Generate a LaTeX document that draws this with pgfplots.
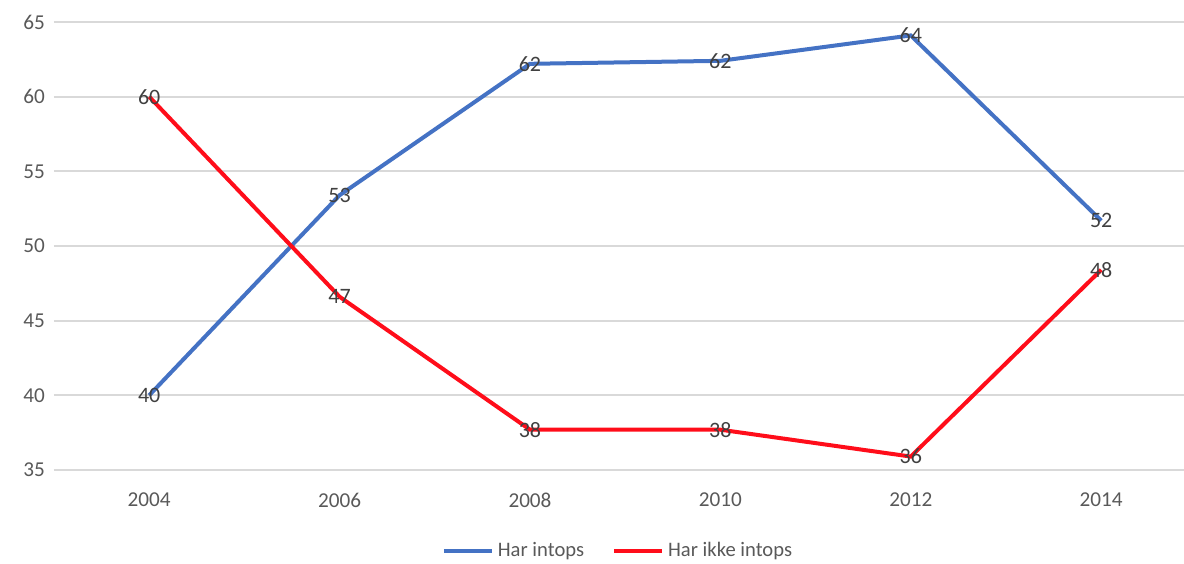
\documentclass[border=0pt]{standalone}
\usepackage{pgfplots}
\pgfplotsset{compat=1.18}
\usepackage{fontspec}
\setmainfont{Carlito}
\definecolor{cblue}{HTML}{4472C4}
\definecolor{cred}{HTML}{FF0D1A}
\definecolor{cgrid}{HTML}{D9D9D9}
\definecolor{ctick}{HTML}{595959}
\definecolor{clab}{HTML}{404040}
\begin{document}
\begin{tikzpicture}
\begin{axis}[
  scale only axis,
  width=565pt, height=224pt,
  xmin=-0.5, xmax=5.435,
  ymin=35, ymax=65,
  ytick={35,40,...,65},
  xtick={0,1,2,3,4,5},
  xticklabels={2004,2006,2008,2010,2012,2014},
  axis line style={draw=none},
  major tick length=0pt,
  ymajorgrids,
  grid style={cgrid, line width=0.9pt},
  tick label style={font=\fontsize{10.6}{12}\selectfont, text=ctick},
  xticklabel style={yshift=-8pt},
  yticklabel style={xshift=-1pt},
  /pgf/number format/assume math mode=true,
  nodes near coords,
  point meta=y,
  nodes near coords style={anchor=center, font=\fontsize{11}{12}\selectfont, text=clab, /pgf/number format/fixed, /pgf/number format/precision=0},
  legend columns=2,
  legend style={at={(0.5,-0.181)}, anchor=center, draw=none, fill=none,
    font=\fontsize{10.3}{12}\selectfont, text=ctick,
    /tikz/every even column/.append style={column sep=12pt}},
  legend image code/.code={\draw[#1] (0pt,0pt) -- (24pt,0pt);},
]
\addplot[cblue, line width=2pt, mark=none] coordinates {
  (0,40.0) (1,53.4) (2,62.2) (3,62.4) (4,64.1) (5,51.7)
};
\addlegendentry{Har intops}
\addplot[cred, line width=2pt, mark=none] coordinates {
  (0,60.0) (1,46.6) (2,37.7) (3,37.7) (4,35.9) (5,48.4)
};
\addlegendentry{Har ikke intops}
\end{axis}
\pgfresetboundingbox
\path ([shift={(-27pt,-46.5pt)}]current axis.south west) rectangle ([shift={(0pt,11pt)}]current axis.north east);
\end{tikzpicture}
\end{document}
